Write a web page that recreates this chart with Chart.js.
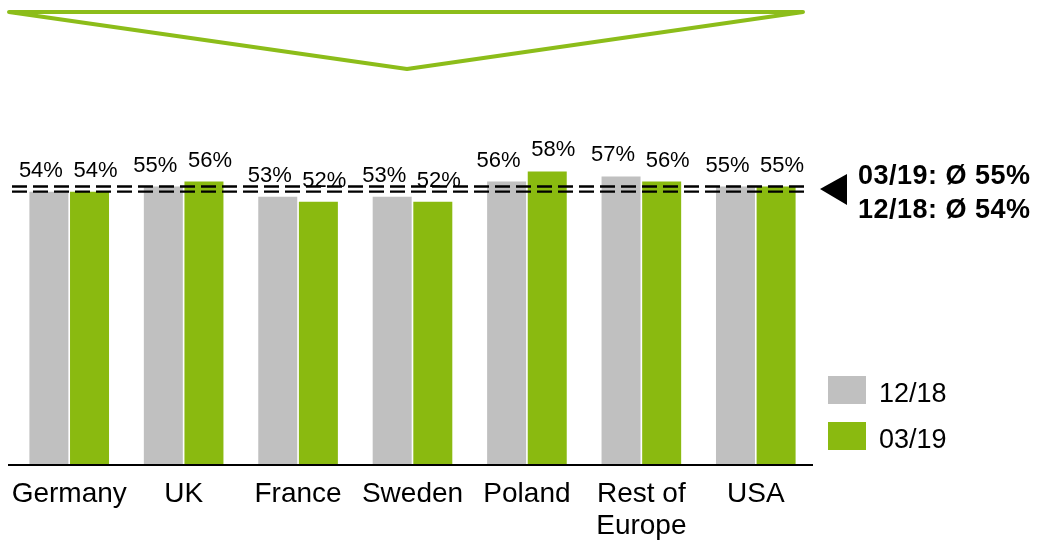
<!DOCTYPE html>
<html>
<head>
<meta charset="utf-8">
<script src="https://cdn.jsdelivr.net/npm/chart.js@4/dist/chart.umd.min.js"></script>
<style>
  html, body { margin: 0; padding: 0; background: #fff; }
  #wrap { width: 1039px; height: 542px; position: relative; }
</style>
</head>
<body>
<div id="wrap"><canvas id="chart"></canvas></div>
<script>
// data /////////////////////////////////////////////////////////////////
const categories = ['Germany', 'UK', 'France', 'Sweden', 'Poland', ['Rest of', 'Europe'], 'USA'];
const seriesNames = ['12/18', '03/19'];
const dec18 = [54, 55, 53, 53, 56, 57, 55];
const mar19 = [54, 56, 52, 52, 58, 56, 55];
// averages (03/19 first, as listed in the side note)
const avgNames = ['03/19', '12/18'];
const avgValues = [55, 54];

const GRAY = '#c0c0c0';
const GREEN = '#8aba10';
const FONT = "'Liberation Sans', Arial, sans-serif";

// 데코 + 라벨 그리기
const overlayPlugin = {
  id: 'overlay',
  beforeDatasetsDraw(chart) {
    const { ctx } = chart;
    // green funnel outline at the top
    ctx.save();
    ctx.strokeStyle = '#8cbd1a';
    ctx.lineWidth = 4;
    ctx.lineJoin = 'round';
    ctx.lineCap = 'round';
    ctx.beginPath();
    ctx.moveTo(9, 12);
    ctx.lineTo(803, 12);
    ctx.lineTo(407, 69);
    ctx.closePath();
    ctx.stroke();
    ctx.restore();
  },
  afterDatasetsDraw(chart) {
    const { ctx, chartArea, scales } = chart;
    const y = scales.y;

    // x axis line
    ctx.save();
    ctx.strokeStyle = '#000';
    ctx.lineWidth = 2;
    ctx.beginPath();
    ctx.moveTo(8, chartArea.bottom);
    ctx.lineTo(chartArea.right, chartArea.bottom);
    ctx.stroke();

    // dashed average lines
    ctx.lineWidth = 2.4;
    ctx.setLineDash([15, 6]);
    avgValues.forEach((v) => {
      const py = y.getPixelForValue(v);
      ctx.beginPath();
      ctx.moveTo(12, py);
      ctx.lineTo(808, py);
      ctx.stroke();
    });
    ctx.setLineDash([]);

    // value labels above bars
    ctx.fillStyle = '#000';
    ctx.font = '22px ' + FONT;
    ctx.textAlign = 'center';
    ctx.textBaseline = 'alphabetic';
    chart.data.datasets.forEach((ds, di) => {
      const meta = chart.getDatasetMeta(di);
      const shift = di === 0 ? -8 : 6;
      meta.data.forEach((bar, i) => {
        ctx.fillText(ds.data[i] + '%', bar.x + shift, bar.y - 15);
      });
    });

    // arrow + average note
    const midY = (y.getPixelForValue(avgValues[0]) + y.getPixelForValue(avgValues[1])) / 2;
    ctx.beginPath();
    ctx.moveTo(820, midY);
    ctx.lineTo(847, midY - 15);
    ctx.lineTo(847, midY + 16);
    ctx.closePath();
    ctx.fill();

    ctx.font = 'bold 27px ' + FONT;
    ctx.textAlign = 'left';
    if ('letterSpacing' in ctx) ctx.letterSpacing = '0.5px';
    avgNames.forEach((n, i) => {
      ctx.fillText(n + ': Ø ' + avgValues[i] + '%', 858, 184 + i * 34);
    });
    if ('letterSpacing' in ctx) ctx.letterSpacing = '0px';

    // legend
    ctx.font = '27px ' + FONT;
    chart.data.datasets.forEach((ds, i) => {
      const top = 376 + i * 46;
      ctx.fillStyle = ds.backgroundColor;
      ctx.fillRect(828, top, 38, 28);
      ctx.fillStyle = '#000';
      ctx.fillText(ds.label, 879, top + 26);
    });
    ctx.restore();
  },
};

new Chart(document.getElementById('chart'), {
  type: 'bar',
  data: {
    labels: categories,
    datasets: [
      {
        label: seriesNames[0],
        data: dec18,
        backgroundColor: GRAY,
        categoryPercentage: 0.71,
        barPercentage: 0.96,
      },
      {
        label: seriesNames[1],
        data: mar19,
        backgroundColor: GREEN,
        categoryPercentage: 0.71,
        barPercentage: 0.96,
      },
    ],
  },
  options: {
    responsive: true,
    maintainAspectRatio: false,
    animation: false,
    layout: { padding: { left: 12, right: 226, top: 60, bottom: 0 } },
    scales: {
      x: {
        grid: { display: false, drawTicks: false },
        border: { display: false },
        ticks: {
          color: '#000',
          padding: 13,
          maxRotation: 0,
          autoSkip: false,
          font: { family: FONT, size: 28, lineHeight: 1.14 },
        },
        afterFit: (s) => {
          s.height = 77;
          // 라벨 폭 때문에 영역이 밀리지 않게
          s.paddingLeft = 0;
          s.paddingRight = 0;
        },
      },
      y: {
        display: false,
        min: 0,
        max: 80,
      },
    },
    plugins: {
      legend: { display: false },
      tooltip: { enabled: false },
    },
  },
  plugins: [overlayPlugin],
});
</script>
</body>
</html>
